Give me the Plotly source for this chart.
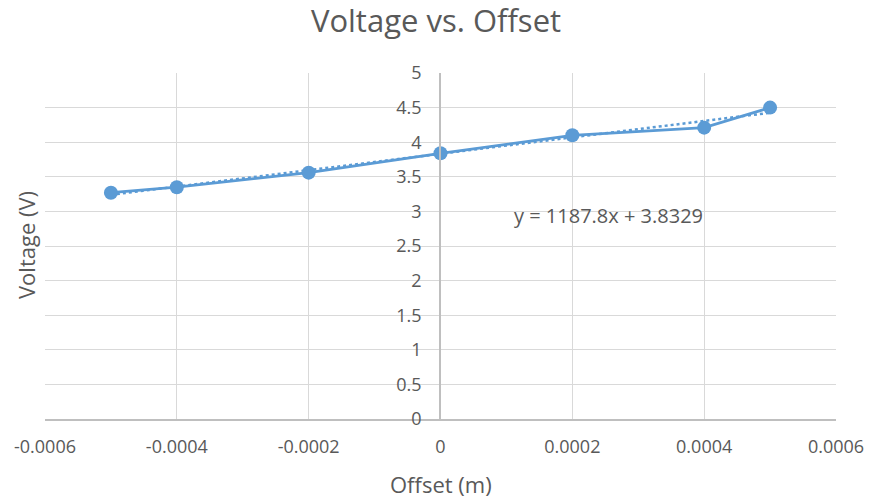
import numpy as np
import plotly.graph_objects as go

offset_m = [-0.0005, -0.0004, -0.0002, 0.0, 0.0002, 0.0004, 0.0005]
voltage_v = [3.27, 3.35, 3.56, 3.84, 4.10, 4.21, 4.50]

x_tick_vals = [-0.0006, -0.0004, -0.0002, 0.0, 0.0002, 0.0004, 0.0006]
x_tick_text = ["-0.0006", "-0.0004", "-0.0002", "0", "0.0002", "0.0004", "0.0006"]
y_tick_vals = [0, 0.5, 1, 1.5, 2, 2.5, 3, 3.5, 4, 4.5, 5]
y_tick_text = ["0", "0.5", "1", "1.5", "2", "2.5", "3", "3.5", "4", "4.5", "5"]
trend_label = "y = 1187.8x + 3.8329"

BLUE = "#5B9BD5"
TXT = "#595959"
FONT = "Open Sans"

slope, intercept = np.polyfit(offset_m, voltage_v, 1)
tx = [min(offset_m), max(offset_m)]
ty = [slope * v + intercept for v in tx]

W, H = 872, 500
ml, mr, mt, mb = 45, 36, 73, 81
pw, ph = W - ml - mr, H - mt - mb

fig = go.Figure()
fig.add_trace(go.Scatter(
    x=tx, y=ty, mode="lines",
    line=dict(color=BLUE, width=2.5, dash="dot"),
    showlegend=False, hoverinfo="skip",
))
fig.add_trace(go.Scatter(
    x=offset_m, y=voltage_v, mode="lines+markers",
    line=dict(color=BLUE, width=2.75),
    marker=dict(color=BLUE, size=14),
    showlegend=False,
))

ypos = (440 - ml) / pw

anns = [
    dict(text=trend_label, x=(608 - ml) / pw, y=(H - mb - 215) / ph,
         xref="paper", yref="paper", showarrow=False,
         xanchor="center", yanchor="middle",
         font=dict(family=FONT, size=20, color=TXT)),
    dict(text="Offset (m)", x=(441 - ml) / pw, y=(H - mb - 484) / ph,
         xref="paper", yref="paper", showarrow=False,
         xanchor="center", yanchor="middle",
         font=dict(family=FONT, size=22, color=TXT)),
    dict(text="Voltage (V)", x=(26 - ml) / pw, y=(H - mb - 245) / ph,
         xref="paper", yref="paper", showarrow=False, textangle=-90,
         xanchor="center", yanchor="middle",
         font=dict(family=FONT, size=22, color=TXT)),
]

fig.update_layout(
    width=W, height=H,
    margin=dict(l=ml, r=mr, t=mt, b=mb, autoexpand=False),
    paper_bgcolor="white", plot_bgcolor="white",
    font=dict(family=FONT, color=TXT, size=18),
    title=dict(text="Voltage vs. Offset", x=0.5, xanchor="center",
               y=1 - 21 / H, yanchor="middle", yref="container",
               font=dict(family=FONT, size=31, color=TXT)),
    xaxis=dict(
        range=[-0.0006, 0.0006], tickmode="array",
        tickvals=x_tick_vals, ticktext=x_tick_text,
        showgrid=True, gridcolor="#D9D9D9", gridwidth=1,
        zeroline=False, showline=True, linecolor="#BFBFBF", linewidth=1.5,
        ticks="", ticklabelstandoff=11, automargin=False,
        tickfont=dict(family=FONT, size=18, color=TXT),
        domain=[0, 1],
    ),
    yaxis=dict(
        range=[0, 5], tickmode="array",
        tickvals=y_tick_vals, ticktext=y_tick_text,
        showgrid=True, gridcolor="#D9D9D9", gridwidth=1,
        zeroline=False, showline=True, linecolor="#BFBFBF", linewidth=1.5,
        ticks="", ticklabelstandoff=14, automargin=False,
        anchor="free", position=ypos,
        tickfont=dict(family=FONT, size=18, color=TXT),
    ),
    annotations=anns,
)

fig.write_html("out.html")
